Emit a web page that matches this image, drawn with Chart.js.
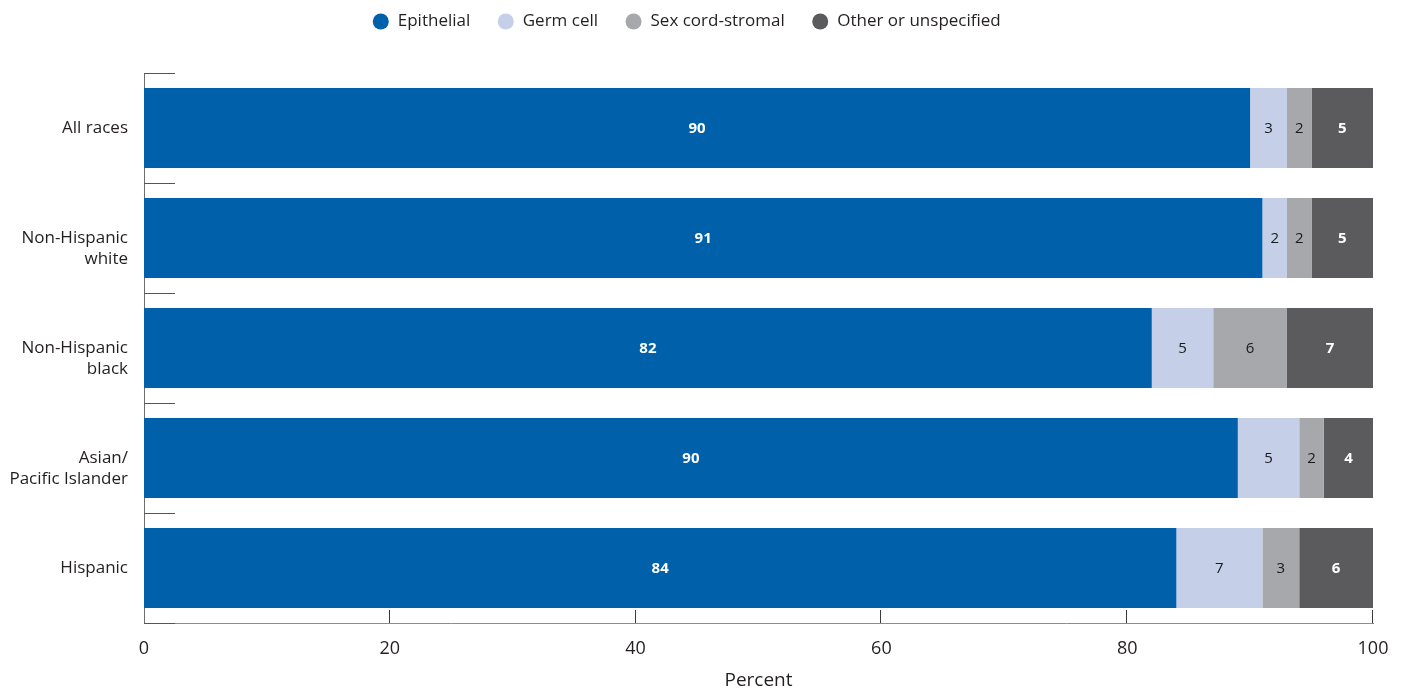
<!DOCTYPE html>
<html>
<head>
<meta charset="utf-8">
<script src="https://cdn.jsdelivr.net/npm/chart.js@4"></script>
<style>
  html, body { margin: 0; padding: 0; background: #ffffff; }
  #wrap { width: 1402px; height: 692px; position: relative; }
</style>
</head>
<body>
<div id="wrap"><canvas id="c"></canvas></div>
<script>
const categories = [["All races"], ["Non-Hispanic", "white"], ["Non-Hispanic", "black"], ["Asian/", "Pacific Islander"], ["Hispanic"]];
const seriesNames = ["Epithelial", "Germ cell", "Sex cord-stromal", "Other or unspecified"];
const epithelial = [90, 91, 82, 89, 84];
const germCell = [3, 2, 5, 5, 7];
const sexCordStromal = [2, 2, 6, 2, 3];
const otherUnspecified = [5, 5, 7, 4, 6];
// printed labels (as shown in the source figure)
const epithelialLabels = [90, 91, 82, 90, 84];
const germCellLabels = [3, 2, 5, 5, 7];
const sexCordLabels = [2, 2, 6, 2, 3];
const otherLabels = [5, 5, 7, 4, 6];
const xTicks = [0, 20, 40, 60, 80, 100];

const FONT = "'Open Sans', 'Noto Sans', sans-serif";
const colors = ["#0060a9", "#c5d0e8", "#a7a8ac", "#5b5b5d"];
const labelSets = [epithelialLabels, germCellLabels, sexCordLabels, otherLabels];
const labelStyle = [
  { color: "#ffffff", weight: "bold" },
  { color: "#1a1a1a", weight: "normal" },
  { color: "#1a1a1a", weight: "normal" },
  { color: "#ffffff", weight: "bold" }
];

const legendHeightPlugin = {
  id: 'legendHeight',
  beforeInit(chart) {
    const orig = chart.legend.fit;
    chart.legend.fit = function () {
      orig.call(this);
      this.height = 87;
    };
  }
};

const barLabels = {
  id: 'barLabels',
  afterDatasetsDraw(chart) {
    const ctx = chart.ctx;
    ctx.save();
    ctx.textAlign = 'center';
    ctx.textBaseline = 'middle';
    chart.data.datasets.forEach((ds, di) => {
      const meta = chart.getDatasetMeta(di);
      meta.data.forEach((el, i) => {
        const p = el.getCenterPoint();
        ctx.fillStyle = labelStyle[di].color;
        ctx.font = labelStyle[di].weight + " 15px " + FONT;
        ctx.fillText(String(labelSets[di][i]), p.x, p.y + 1);
      });
    });
    ctx.restore();
  }
};

const axisMarks = {
  id: 'axisMarks',
  afterDraw(chart) {
    const ctx = chart.ctx;
    const a = chart.chartArea;
    const n = categories.length;
    const band = (a.bottom - a.top) / n;
    ctx.save();
    ctx.strokeStyle = '#555555';
    ctx.lineWidth = 1;
    for (let i = 0; i <= n; i++) {
      const y = Math.round(a.top + i * band) + 0.5;
      ctx.beginPath();
      ctx.moveTo(a.left, y);
      ctx.lineTo(a.left + 31, y);
      ctx.stroke();
    }
    const xs = chart.scales.x;
    ctx.strokeStyle = '#3a3a3a';
    xTicks.forEach(v => {
      if (v === 0) return;
      const x = Math.round(xs.getPixelForValue(v)) - 0.5;
      ctx.beginPath();
      ctx.moveTo(x, a.bottom);
      ctx.lineTo(x, a.bottom - 13);
      ctx.stroke();
    });
    ctx.restore();
  }
};

const datasets = [epithelial, germCell, sexCordStromal, otherUnspecified].map((vals, i) => ({
  label: seriesNames[i],
  data: vals,
  backgroundColor: colors[i],
  borderWidth: 0,
  barPercentage: 80 / 110,
  categoryPercentage: 1.0
}));

new Chart(document.getElementById('c'), {
  type: 'bar',
  data: { labels: categories, datasets },
  plugins: [legendHeightPlugin, barLabels, axisMarks],
  options: {
    indexAxis: 'y',
    responsive: true,
    maintainAspectRatio: false,
    animation: false,
    layout: { padding: { top: -14, right: 29, bottom: 0, left: 0 } },
    plugins: {
      legend: {
        position: 'top',
        align: 'center',
        labels: {
          usePointStyle: true,
          pointStyle: 'circle',
          boxWidth: 17,
          boxHeight: 11.3,
          padding: 27,
          color: '#231f20',
          font: { family: FONT, size: 17 }
        }
      },
      tooltip: { enabled: false }
    },
    scales: {
      x: {
        stacked: true,
        min: 0,
        max: 100,
        afterFit(s) { s.height = 69; s.paddingLeft = 0; s.paddingRight = 0; },
        afterBuildTicks(s) { s.ticks = xTicks.map(v => ({ value: v })); },
        grid: { display: false, drawTicks: false },
        border: { display: true, color: '#8c8c8c', width: 1 },
        ticks: { padding: 15, color: '#231f20', font: { family: FONT, size: 18 } },
        title: {
          display: true,
          text: 'Percent',
          color: '#231f20',
          font: { family: FONT, size: 19 },
          padding: { top: 6, bottom: 0 }
        }
      },
      y: {
        stacked: true,
        afterFit(s) { s.width = 144; },
        grid: { display: false, drawTicks: false },
        border: { display: true, color: '#6e6e6e', width: 1 },
        ticks: {
          padding: 16,
          color: '#231f20',
          font: { family: FONT, size: 17, lineHeight: 1.25 },
          callback(value, index) {
            const lbl = categories[index];
            // two-line labels start at the bar centre in the source figure
            return lbl.length > 1 ? [""].concat(lbl) : lbl;
          }
        }
      }
    }
  }
});
</script>
</body>
</html>
